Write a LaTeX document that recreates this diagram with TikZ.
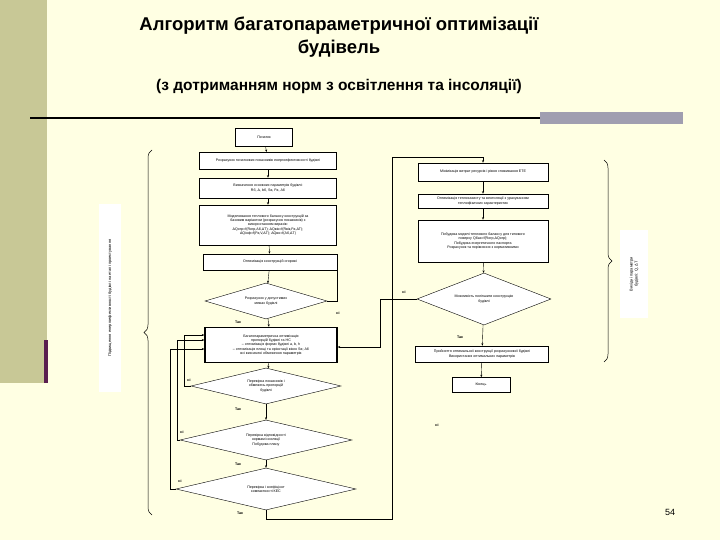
\documentclass[tikz,border=0pt]{standalone}
\usepackage{fontspec}
\setmainfont{Liberation Sans}
\usetikzlibrary{shapes.geometric,decorations.pathreplacing,arrows.meta}
\definecolor{cream}{HTML}{FFFFE3}
\definecolor{olive}{HTML}{C8C896}
\definecolor{barg}{HTML}{A09EB0}
\definecolor{purp}{HTML}{5A1E50}
\begin{document}
\begin{tikzpicture}[x=1pt,y=-1pt,
  box/.style={draw,fill=white,line width=0.5pt,align=center,font=\fontsize{3.6}{4.3}\selectfont,inner sep=1pt},
  tbox/.style={box,line width=1pt},
  dia/.style={draw,fill=white,diamond,aspect=3.3,align=center,font=\fontsize{3.6}{4.3}\selectfont,inner sep=0.5pt},
  lbl/.style={font=\fontsize{3.6}{4}\selectfont\bfseries,inner sep=0.5pt},
  arr/.style={-{Stealth[length=2.5pt,width=2pt]},line width=0.4pt}]
\fill[cream] (0,0) rectangle (720,540);
\useasboundingbox (0,0) rectangle (720,540);
\fill[olive] (0,0) rectangle (47,383);
\fill[purp] (44,340) rectangle (48,383);
\fill[barg] (540,112) rectangle (683,124);
\draw[line width=1.6pt] (30,118) -- (540,118);
\node[font=\fontsize{18.5}{23}\selectfont\bfseries,align=center] (t1) at (339,37) {Алгоритм багатопараметричної оптимізації\\будівель};
\node[font=\fontsize{15.5}{18}\selectfont\bfseries] (t2) at (339,86) {(з дотриманням норм з освітлення та інсоляції)};
\node[font=\fontsize{9}{10}\selectfont] (pg) at (670,512) {54};
% left column
\node[box,minimum width=57pt,minimum height=18pt] (b1) at (264,137) {Початок};
\node[tbox,minimum width=137pt,minimum height=17pt] (b2) at (268,161) {Розрахунок початкових показників енергоефективності будівлі};
\node[box,minimum width=137pt,minimum height=20pt] (b3) at (268,188) {Визначення основних параметрів будівлі:\\Rб, Δ, bб, Sв, Fв, Aб};
\node[box,minimum width=137pt,minimum height=40pt] (b4) at (268,225) {Моделювання теплового балансу конструкцій за\\базовим варіантом (розрахунок показників) з\\використанням виразів:\\ΔQогр=f(Rогр,Aб,ΔT); ΔQвік=f(Rвік,Fв,ΔT);\\ΔQінф=f(Fв,V,ΔT); ΔQвн=f(Aб,ΔT)};
\node[box,minimum width=134pt,minimum height=16pt] (b5) at (270,262) {Оптимізація конструкцій огорожі};
\node[dia,minimum width=122pt,minimum height=36pt] (d1) at (266,301) {Розрахунок у допустимих\\межах будівлі};
\node[tbox,line width=1.4pt,minimum width=132pt,minimum height=35pt] (b6) at (271,345) {Багатопараметрична оптимізація\\пропорцій будівлі та НС\\– оптимізація форми будівлі a, b, h\\– оптимізація площі та орієнтації вікон Sв; Aб\\всі визначені обмеження параметрів};
\node[dia,minimum width=150pt,minimum height=36pt] (d2) at (266,386) {Перевірка показників і\\обмежень пропорцій\\будівлі};
\node[dia,minimum width=172pt,minimum height=40pt] (d3) at (266,440) {Перевірка відповідності\\нормам інсоляції\\Побудова плану};
\node[dia,minimum width=180pt,minimum height=42pt] (d4) at (266,489) {Перевірка і коефіцієнт\\компактності КЕС};
% right column
\node[box,minimum width=130pt,minimum height=18pt] (r1) at (483,172) {Мінімізація витрат ресурсів і рівня споживання ЕТЕ};
\node[box,minimum width=130pt,minimum height=14pt] (r2) at (483,201) {Оптимізація теплозахисту та вентиляції з урахуванням\\теплофізичних характеристик};
\node[box,minimum width=130pt,minimum height=42pt] (r3) at (483,241) {Побудова моделі теплового балансу для типового\\поверху Qбаз=f(Rогр,ΔQогр);\\Побудова енергетичного паспорта\\Розрахунок та порівняння з нормативними};
\node[dia,minimum width=134pt,minimum height=52pt] (dr) at (484,299) {Можливість поліпшити конструкцію\\будівлі};
\node[box,minimum width=133pt,minimum height=16pt] (r4) at (482,354) {Прийняття оптимальної конструкції розрахункової будівлі\\Використання оптимальних параметрів};
\node[box,minimum width=58pt,minimum height=15pt] (r5) at (481,385) {Кінець};
% arrows
\draw[arr] (b1) -- (b2);
\draw[arr] (b2) -- (b3);
\draw[arr] (b3) -- (b4);
\draw[arr] (b4) -- (b5);
\draw[arr] (b5) -- (d1);
\draw[arr] (d1) -- (b6);
\draw[arr] (b6) -- (d2);
\draw[arr] (d2) -- (d3);
\draw[arr] (d3) -- (d4);
\draw[line width=0.4pt] (d1.east) -- ++(10,0) coordinate (c1) |- (b5.east);
\node[lbl] (n1) at (338,313) {ні};
\node[lbl] (y1) at (238,322) {Так};
\node[lbl] (y2) at (238,409) {Так};
\node[lbl] (y3) at (238,464) {Так};
\node[lbl] (y4) at (240,513) {Так};
\coordinate (cl2) at (184,386);
\draw[arr] (d2.west) -- (cl2) |- ([yshift=10pt]b6.west);
\node[lbl] (n2) at (189,380) {ні};
\draw[arr] (d3.west) -- ++(-3,0) coordinate (cl3) |- ([yshift=5pt]b6.west);
\node[lbl] (n3) at (182,432) {ні};
\draw[arr] (d4.west) -- ++(-6,0) coordinate (cl4) |- ([yshift=-4pt]b6.west);
\node[lbl] (n4) at (180,481) {ні};
\draw[arr] (d4.south) -- ++(0,9) coordinate (cb) -| (392,157) coordinate (ct) -| (r1.north);
\node[lbl] (n5) at (437,425) {ні};
\draw[arr] (r1) -- (r2);
\draw[arr] (r2) -- (r3);
\draw[arr] (r3) -- (dr);
\draw[arr] (dr) -- (r4);
\draw[arr] (r4) -- (r5);
\draw[arr] (dr.west) -- (380,299) coordinate (cr) |- ([yshift=-2pt]b6.east);
\node[lbl] (n6) at (404,292) {ні};
\node[lbl] (y6) at (460,337) {Так};
% braces
\draw[decorate,decoration={brace,amplitude=8pt},line width=0.5pt] (152,515) -- (152,150);
\draw[decorate,decoration={brace,amplitude=8pt},line width=0.5pt] (604,160) -- (604,362);
\node[fill=white,rotate=90,font=\fontsize{4}{5}\selectfont,minimum width=188pt,minimum height=22pt] (ll) at (110,298) {Підвищення енергоефективності будівлі на етапі проектування};
\node[fill=white,rotate=90,font=\fontsize{4}{5}\selectfont,align=center,minimum width=88pt,minimum height=28pt] (rl) at (634,274) {Вихідні параметри\\будівлі: Q, ΔT};
\end{tikzpicture}
\end{document}
